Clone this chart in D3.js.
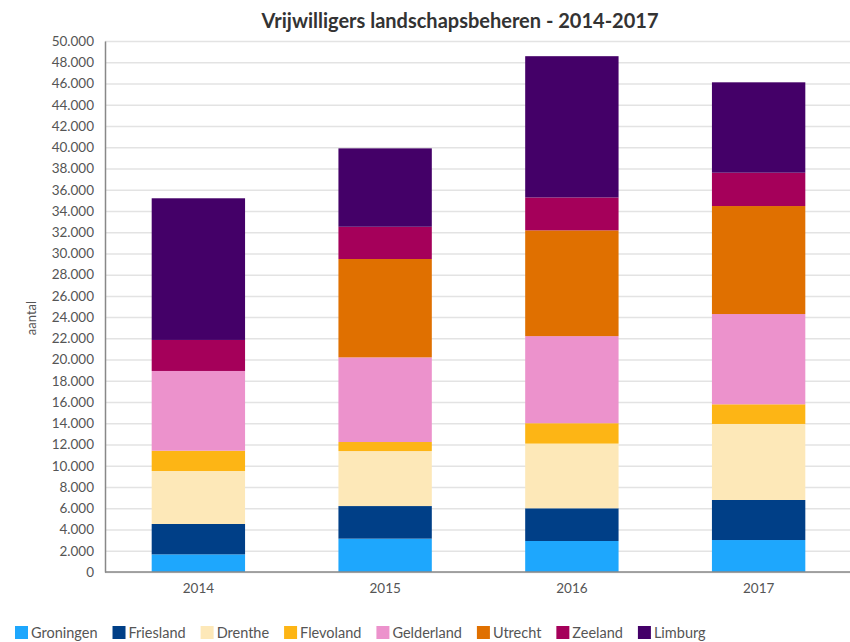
<!DOCTYPE html>
<html lang="nl">
<head>
<meta charset="UTF-8">
<title>Vrijwilligers landschapsbeheren</title>
<style>
	body { margin: 0; background: #fff; }
	svg { font-family: Lato, "Open Sans", sans-serif; }
	.grid line { stroke: #e3e3e3; stroke-width: 1.5; }
	.grid path { display: none; }
	.y-axis text, .x-axis text { fill: #555; font-size: 13.5px; }
	.legend text { fill: #555; font-size: 14.5px; }
</style>
</head>
<body>
<svg id="chart" width="850" height="642"></svg>
<script src="https://cdn.jsdelivr.net/npm/d3@7"></script>
<script>
	var years = ["2014", "2015", "2016", "2017"];
	var provinces = ["Groningen", "Friesland", "Drenthe", "Flevoland", "Gelderland", "Utrecht", "Zeeland", "Limburg"];
	var colors = ["#1ea7fd", "#003f87", "#fde8b8", "#fdb515", "#ec92cc", "#e07000", "#a5005a", "#440068"];

	// waarden per provincie, per jaar (2014..2017)
	var groningen  = [1660, 3140, 2920, 3010];
	var friesland  = [2860, 3070, 3080, 3770];
	var drenthe    = [4990, 5180, 6090, 7160];
	var flevoland  = [1910, 850, 1920, 1850];
	var gelderland = [7510, 7970, 8200, 8500];
	var utrecht    = [0, 9260, 9960, 10170];
	var zeeland    = [2920, 3040, 3100, 3140];
	var limburg    = [13340, 7380, 13300, 8510];

	var yTicks = d3.range(0, 50001, 2000);

	var series = [groningen, friesland, drenthe, flevoland, gelderland, utrecht, zeeland, limburg];
	var rows = years.map(function(y, i) {
		var r = { year: y };
		provinces.forEach(function(p, j) { r[p] = series[j][i]; });
		return r;
	});

	var nl = d3.formatLocale({ decimal: ",", thousands: ".", grouping: [3], currency: ["€ ", ""] });
	var fmt = nl.format(",");

	var svg = d3.select("#chart");
	var mLeft = 105, mRight = 852, mTop = 41, mBottom = 572;

	var x = d3.scaleBand().domain(years).range([mLeft, mRight]).paddingInner(0.5).paddingOuter(0.25);
	var y = d3.scaleLinear().domain([0, 50000]).range([mBottom, mTop]);
	var color = d3.scaleOrdinal().domain(provinces).range(colors);

	// gridlines
	svg.append("g")
		.attr("class", "grid")
		.attr("transform", "translate(" + mLeft + ",0)")
		.call(d3.axisRight(y).tickValues(yTicks).tickSize(mRight - mLeft).tickFormat(""));

	var stack = d3.stack().keys(provinces)(rows);

	svg.append("g").selectAll("g")
		.data(stack)
		.enter().append("g")
		.attr("fill", function(d) { return color(d.key); })
		.selectAll("rect")
		.data(function(d) { return d; })
		.enter().append("rect")
		.attr("x", function(d) { return x(d.data.year); })
		.attr("width", x.bandwidth())
		.attr("y", function(d) { return y(d[1]); })
		.attr("height", function(d) { return y(d[0]) - y(d[1]); });

	// y axis
	var yAxis = svg.append("g")
		.attr("class", "y-axis")
		.attr("transform", "translate(" + mLeft + ",0)")
		.call(d3.axisLeft(y).tickValues(yTicks).tickSize(0).tickPadding(11).tickFormat(fmt))
		.attr("font-family", null).attr("font-size", null);
	yAxis.select(".domain").attr("stroke", "#888").attr("stroke-width", 1.5);

	// x axis
	var xAxis = svg.append("g")
		.attr("class", "x-axis")
		.attr("transform", "translate(0," + mBottom + ")")
		.call(d3.axisBottom(x).tickSize(0).tickPadding(11))
		.attr("font-family", null).attr("font-size", null);
	xAxis.select(".domain").attr("d", "M" + mLeft + ",0H" + mRight).attr("stroke", "#888").attr("stroke-width", 1.5);

	svg.append("text")
		.attr("transform", "translate(36,318) rotate(-90)")
		.attr("text-anchor", "middle")
		.attr("fill", "#555")
		.style("font-size", "13px")
		.text("aantal");

	svg.append("text")
		.attr("x", 460)
		.attr("y", 28)
		.attr("text-anchor", "middle")
		.attr("fill", "#333")
		.style("font-size", "20px")
		.style("font-weight", "bold")
		.text("Vrijwilligers landschapsbeheren - 2014-2017");

	// legend
	var legend = svg.append("g").attr("class", "legend");
	var lx = 15;
	provinces.forEach(function(p) {
		legend.append("rect")
			.attr("x", lx).attr("y", 626)
			.attr("width", 13).attr("height", 13)
			.attr("fill", color(p));
		var t = legend.append("text")
			.attr("x", lx + 16).attr("y", 638)
			.text(p);
		lx += 16 + t.node().getComputedTextLength() + 15;
	});
</script>
</body>
</html>
